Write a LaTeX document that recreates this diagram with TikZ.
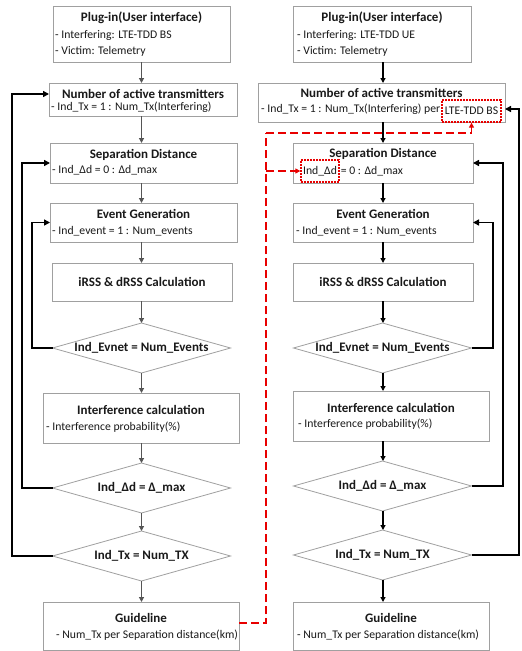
\documentclass[tikz,border=0pt]{standalone}
\usepackage{fontspec}
\setmainfont{Carlito}
\usetikzlibrary{shapes.geometric,arrows.meta,calc}
\definecolor{boxgray}{RGB}{160,160,160}
\definecolor{arrgray}{RGB}{85,85,85}
\definecolor{txt}{RGB}{25,25,25}
\definecolor{myred}{RGB}{232,0,0}
\begin{document}
\begin{tikzpicture}[x=1pt,y=-1pt,
  box/.style={draw=boxgray, line width=0.8pt, fill=white, inner sep=0pt, outer sep=0pt, anchor=north west},
  dia/.style={diamond, draw=boxgray, line width=0.8pt, fill=white, inner sep=0pt, outer sep=0pt, aspect=3.5,
    minimum width=178pt, minimum height=50pt, font=\fontsize{13}{15}\selectfont\bfseries, text=txt},
  ttl/.style={inner sep=0pt, font=\fontsize{13}{15}\selectfont\bfseries, text=txt},
  bdy/.style={inner sep=0pt, anchor=west, font=\fontsize{11.7}{14}\selectfont, text=txt},
  garr/.style={draw=arrgray, line width=1.2pt, -{Triangle[length=5pt,width=5pt]}},
  barr/.style={draw=black, line width=1.2pt, -{Triangle[length=5pt,width=5pt]}},
  fb/.style={draw=black, line width=1.6pt, -{Triangle[length=6pt,width=6pt]}},
  rdash/.style={draw=myred, line width=1.4pt, dash pattern=on 8pt off 4pt},
  rarr/.style={rdash, -{Triangle[length=5pt,width=5pt]}},
  rbox/.style={draw=myred, line width=1.3pt, dash pattern=on 1.6pt off 1.4pt, inner sep=0pt,
    font=\fontsize{11.7}{14}\selectfont, text=txt}
]
\useasboundingbox (0,0) rectangle (522,651);
\fill[white] (0,0) rectangle (522,651);

% ---------- left column ----------
\coordinate (lc) at (141.5,0);
\node[box, minimum width=177pt, minimum height=56pt] (L1) at (53,6) {};
\node[ttl] (L1t) at (141.5,18) {Plug-in(User interface)};
\node[bdy] (L1a) at (55,35) {- Interfering: LTE-TDD BS};
\node[bdy] (L1b) at (55,51) {- Victim: Telemetry};

\node[box, minimum width=188pt, minimum height=33pt] (L2) at (49,83) {};
\node[ttl] (L2t) at (143,94) {Number of active transmitters};
\node[bdy] (L2a) at (51,107) {- Ind\_Tx = 1 : Num\_Tx(Interfering)};

\node[box, minimum width=187pt, minimum height=40pt] (L3) at (50,143) {};
\node[ttl] (L3t) at (143.5,155) {Separation Distance};
\node[bdy] (L3a) at (52,170) {- Ind\_Δd = 0 : Δd\_max};

\node[box, minimum width=187pt, minimum height=39pt] (L4) at (50,203) {};
\node[ttl] (L4t) at (143.5,214) {Event Generation};
\node[bdy] (L4a) at (52,231) {- Ind\_event = 1 : Num\_events};

\node[box, minimum width=180pt, minimum height=38pt] (L5) at (52,263) {};
\node[ttl] (L5t) at (142,282) {iRSS \& dRSS Calculation};

\node[dia] (LD1) at (141.5,348) {Ind\_Evnet = Num\_Events};

\node[box, minimum width=196pt, minimum height=50pt] (L6) at (43,393) {};
\node[ttl] (L6t) at (141,410) {Interference calculation};
\node[bdy] (L6a) at (46,427) {- Interference probability(\%)};

\node[dia] (LD2) at (141.5,488) {Ind\_Δd = Δ\_max};
\node[dia] (LD3) at (141.5,556) {Ind\_Tx = Num\_TX};

\node[box, minimum width=196pt, minimum height=48pt] (L7) at (43,602) {};
\node[ttl] (L7t) at (141,618) {Guideline};
\node[bdy] (L7a) at (56,635) {- Num\_Tx per Separation distance(km)};

\draw[garr] (lc |- L1.south) -- (lc |- L2.north);
\draw[garr] (lc |- L2.south) -- (lc |- L3.north);
\draw[garr] (lc |- L3.south) -- (lc |- L4.north);
\draw[garr] (lc |- L4.south) -- (lc |- L5.north);
\draw[garr] (lc |- L5.south) -- (LD1.north);
\draw[garr] (LD1.south) -- (lc |- L6.north);
\draw[garr] (lc |- L6.south) -- (LD2.north);
\draw[garr] (LD2.south) -- (LD3.north);
\draw[garr] (LD3.south) -- (lc |- L7.north);

\coordinate (fl1) at (32,0);
\coordinate (fl2) at (22,0);
\coordinate (fl3) at (12,0);
\coordinate (L2in) at ([yshift=5.5pt]L2.west);
\draw[fb] (LD1.west) -- (LD1.west -| fl1) -- (fl1 |- L4.west) -- (L4.west);
\draw[fb] (LD2.west) -- (LD2.west -| fl2) -- (fl2 |- L3.west) -- (L3.west);
\draw[fb] (LD3.west) -- (LD3.west -| fl3) -- (fl3 |- L2in) -- (L2in);

% ---------- right column ----------
\coordinate (rc) at (383,0);
\node[box, minimum width=178pt, minimum height=56pt] (R1) at (293,6) {};
\node[ttl] (R1t) at (382,18) {Plug-in(User interface)};
\node[bdy] (R1a) at (297,35) {- Interfering: LTE-TDD UE};
\node[bdy] (R1b) at (297,51) {- Victim: Telemetry};

\node[box, minimum width=247pt, minimum height=39pt] (R2) at (258,83) {};
\node[ttl] (R2t) at (381.5,93) {Number of active transmitters};
\node[bdy] (R2a) at (261,109) {- Ind\_Tx = 1 : Num\_Tx(Interfering) per};
\node[rbox, minimum width=59pt, minimum height=22pt] (R2b) at (471.5,111) {LTE-TDD BS};

\node[box, minimum width=180pt, minimum height=40pt] (R3) at (293,143) {};
\node[ttl] (R3t) at (383,154) {Separation Distance};
\node[rbox, minimum width=38pt, minimum height=22pt] (R3a) at (320,171) {Ind\_Δd};
\node[bdy] (R3b) at ([xshift=1pt]R3a.east) {= 0 : Δd\_max};

\node[box, minimum width=180pt, minimum height=39pt] (R4) at (293,203) {};
\node[ttl] (R4t) at (383,214) {Event Generation};
\node[bdy] (R4a) at (296,231) {- Ind\_event = 1 : Num\_events};

\node[box, minimum width=180pt, minimum height=38pt] (R5) at (293,263) {};
\node[ttl] (R5t) at (383,282) {iRSS \& dRSS Calculation};

\node[dia] (RD1) at (382.5,348) {Ind\_Evnet = Num\_Events};

\node[box, minimum width=196pt, minimum height=50pt] (R6) at (293,391) {};
\node[ttl] (R6t) at (391,408) {Interference calculation};
\node[bdy] (R6a) at (298,424) {- Interference probability(\%)};

\node[dia] (RD2) at (382.5,486) {Ind\_Δd = Δ\_max};
\node[dia] (RD3) at (382.5,555) {Ind\_Tx = Num\_TX};

\node[box, minimum width=196pt, minimum height=48pt] (R7) at (293,602) {};
\node[ttl] (R7t) at (391,618) {Guideline};
\node[bdy] (R7a) at (297,635) {- Num\_Tx per Separation distance(km)};

\draw[barr] (rc |- R1.south) -- (rc |- R2.north);
\draw[barr] (rc |- R2.south) -- (rc |- R3.north);
\draw[barr] (rc |- R3.south) -- (rc |- R4.north);
\draw[barr] (rc |- R4.south) -- (rc |- R5.north);
\draw[barr] (rc |- R5.south) -- (rc |- RD1.north);
\draw[barr] (rc |- RD1.south) -- (rc |- R6.north);
\draw[barr] (rc |- R6.south) -- (rc |- RD2.north);
\draw[barr] (rc |- RD2.south) -- (rc |- RD3.north);
\draw[barr] (rc |- RD3.south) -- (rc |- R7.north);

\coordinate (fr1) at (493,0);
\coordinate (fr2) at (503,0);
\coordinate (fr3) at (519,0);
\coordinate (R2in) at ([yshift=-6.5pt]R2.east);
\draw[fb] (RD1.east) -- (RD1.east -| fr1) -- (fr1 |- R4.east) -- (R4.east);
\draw[fb] (RD2.east) -- (RD2.east -| fr2) -- (fr2 |- R3.east) -- (R3.east);
\draw[fb] (RD3.east) -- (RD3.east -| fr3) -- (fr3 |- R2in) -- (R2in);

% ---------- red dashed link ----------
\coordinate (rd0) at (266,623);
\coordinate (rd1) at (266,133);
\draw[rdash] (L7.east |- rd0) -- (rd0) -- (rd1);
\draw[rarr] (rd1) -| (R2b.south);
\draw[rarr] (rd1 |- R3a.west) -- (R3a.west);
\end{tikzpicture}
\end{document}
